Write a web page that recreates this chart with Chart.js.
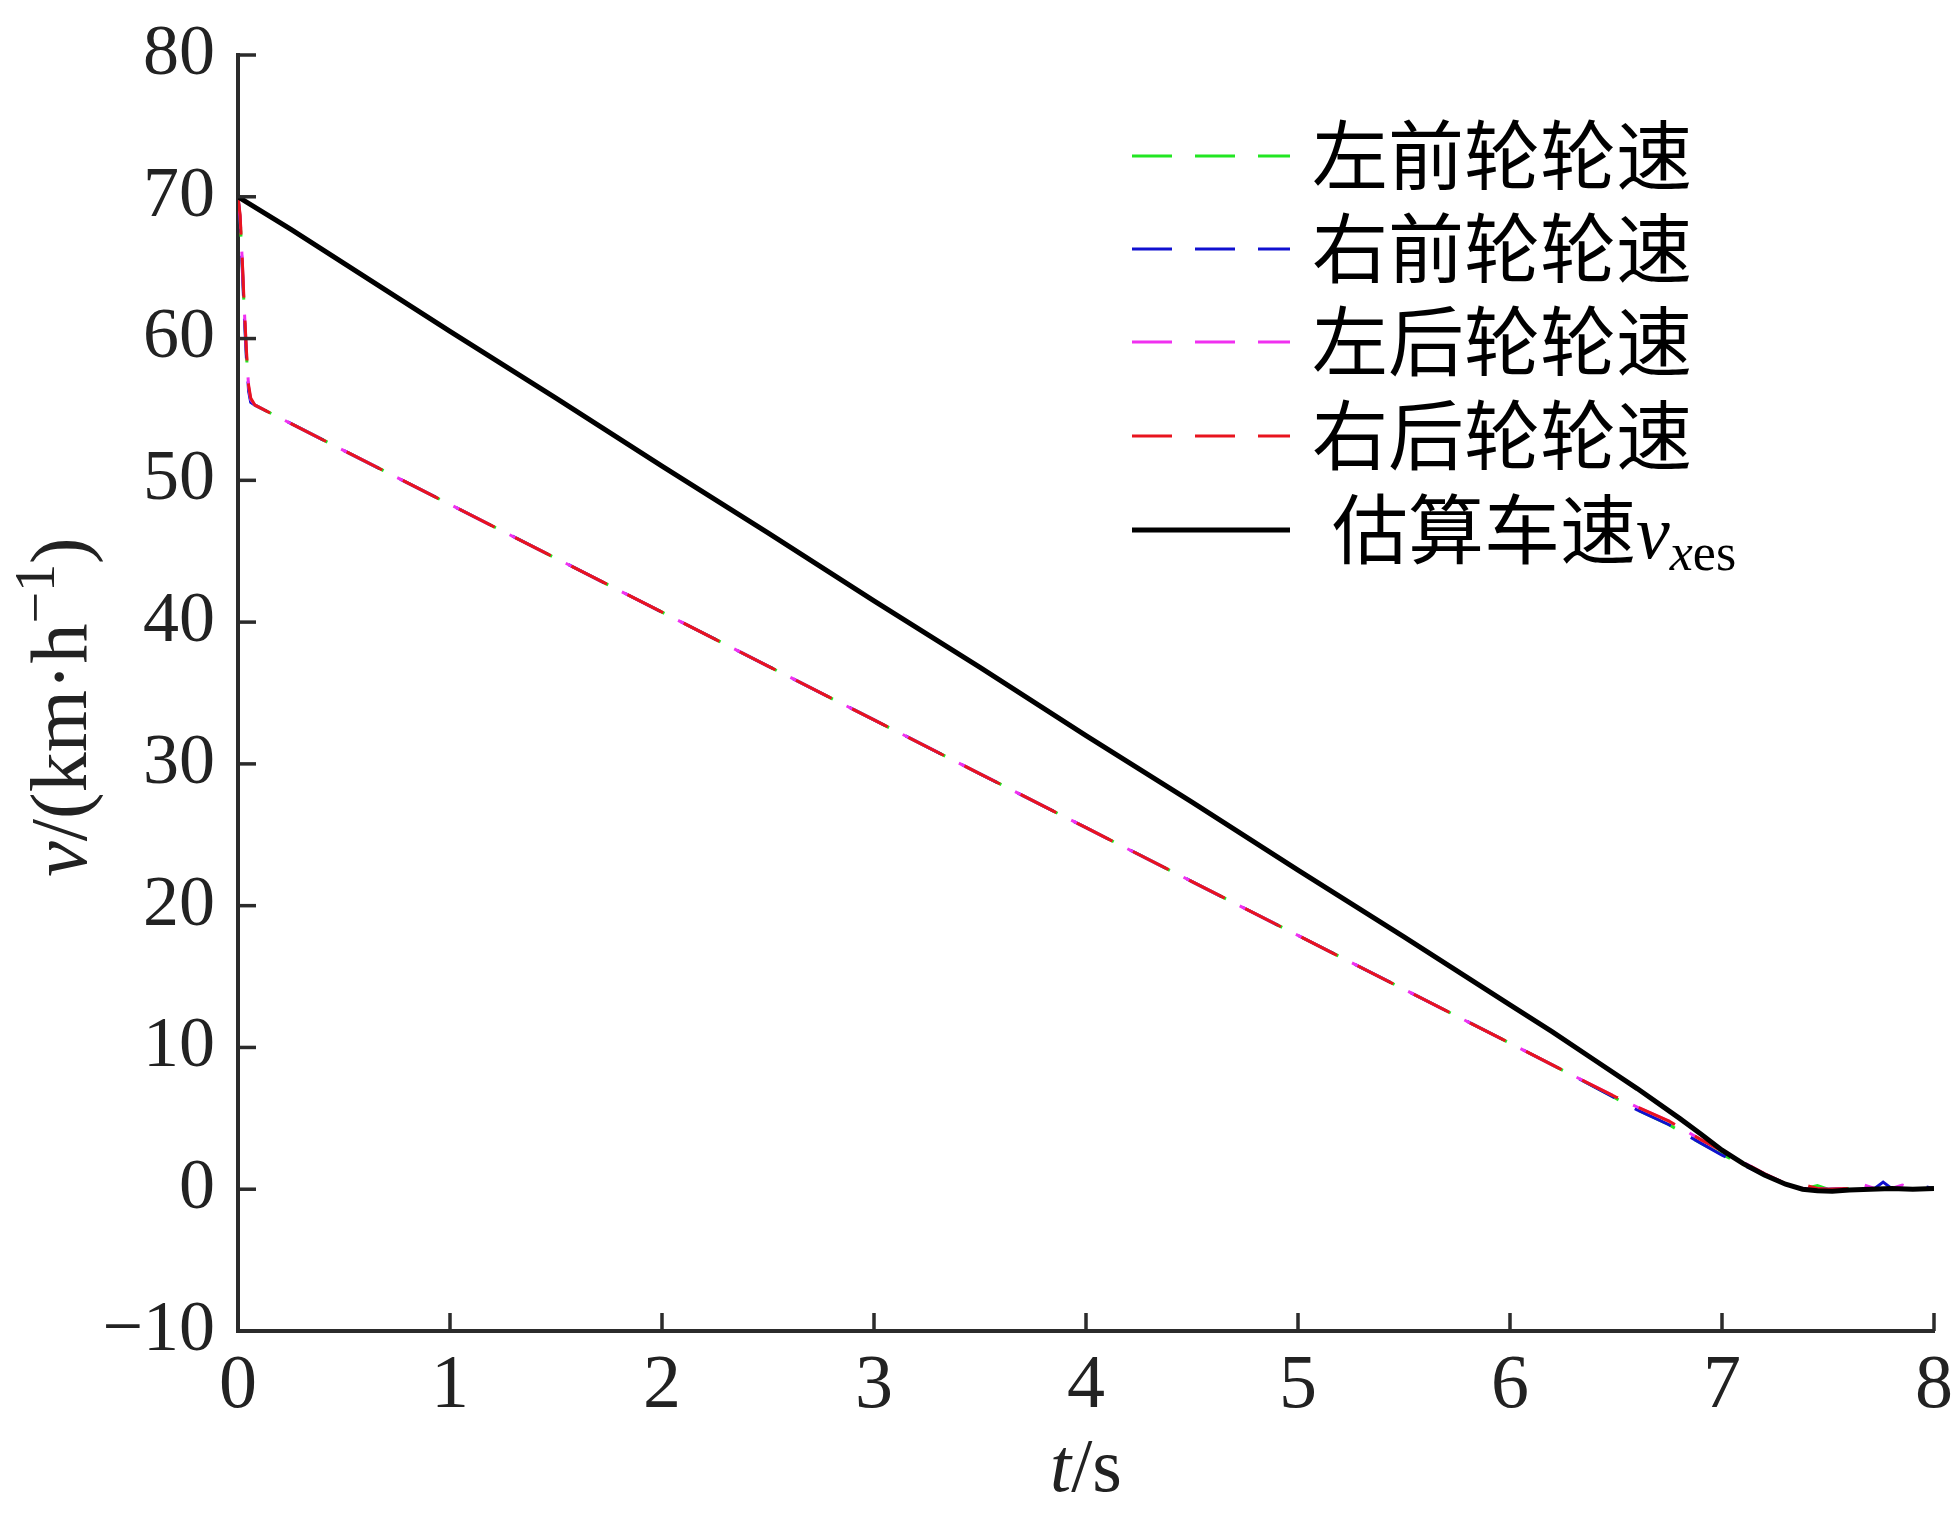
<!DOCTYPE html>
<html><head><meta charset="utf-8">
<script src="https://cdn.jsdelivr.net/npm/chart.js@4.4.1/dist/chart.umd.min.js"></script>
<style>html,body{margin:0;padding:0;background:#fff;}#wrap{width:1955px;height:1515px;}</style>
</head><body><div id="wrap"><canvas id="c" width="1955" height="1515"></canvas></div>
<script>
// ---------------- DATA ----------------
const seriesLabels = ['左前轮轮速', '右前轮轮速', '左后轮轮速', '右后轮轮速', '估算车速'];
const xTickValues = [0, 1, 2, 3, 4, 5, 6, 7, 8];
const yTickValues = [-10, 0, 10, 20, 30, 40, 50, 60, 70, 80];

const wheelTime = [0, 0.01, 0.02, 0.03, 0.04, 0.05, 0.06, 0.08, 0.5, 1, 1.5, 2, 2.5, 3, 3.5, 4, 4.5, 5, 5.5, 6, 6.3, 6.5, 6.6, 6.75, 6.9, 7.0, 7.1, 7.2, 7.3, 7.35, 7.39, 7.45, 7.5, 7.6, 7.67, 7.72, 7.76, 7.8, 7.85, 7.9, 7.95, 8];
const leftFront  = [70, 68.5, 65.3, 61.8, 58.8, 56.5, 55.6, 55.3, 52.1, 48.3, 44.5, 40.7, 36.9, 33.1, 29.3, 25.5, 21.7, 17.9, 14.1, 10.3, 8.0, 6.4, 5.6, 4.55, 3.25, 2.45, 1.75, 1.0, 0.35, 0.1, 0.05, 0.25, 0.0, 0.05, 0.05, 0.05, 0.05, 0.05, 0.05, 0.05, 0.05, 0.05];
const rightFront = [70, 68.3, 65.0, 61.5, 58.5, 56.3, 55.5, 55.3, 52.1, 48.3, 44.5, 40.7, 36.9, 33.1, 29.3, 25.5, 21.7, 17.9, 14.1, 10.3, 8.0, 6.4, 5.6, 4.55, 3.25, 2.4, 1.7, 1.0, 0.35, 0.1, 0.05, 0.05, 0.0, 0.05, 0.05, 0.05, 0.5, 0.05, 0.05, 0.05, 0.2, 0.05];
const leftRear   = [70, 68.6, 65.5, 62.0, 59.0, 56.6, 55.7, 55.3, 52.1, 48.3, 44.5, 40.7, 36.9, 33.1, 29.3, 25.5, 21.7, 17.9, 14.1, 10.3, 8.0, 6.5, 5.8, 4.8, 3.5, 2.7, 1.9, 1.1, 0.4, 0.15, 0.05, 0.05, 0.0, 0.05, 0.3, 0.05, 0.05, 0.05, 0.3, 0.05, 0.05, 0.05];
const rightRear  = [70, 68.7, 65.6, 62.1, 59.1, 56.7, 55.8, 55.3, 52.1, 48.3, 44.5, 40.7, 36.9, 33.1, 29.3, 25.5, 21.7, 17.9, 14.1, 10.3, 8.0, 6.5, 5.8, 4.8, 3.5, 2.7, 1.9, 1.1, 0.4, 0.15, 0.3, 0.05, 0.0, 0.05, 0.05, 0.05, 0.05, 0.05, 0.05, 0.05, 0.05, 0.05];

const estTime  = [0, 0.25, 0.5, 1, 1.5, 2, 2.5, 3, 3.5, 4, 4.5, 5, 5.5, 6, 6.2, 6.4, 6.6, 6.8, 6.9, 7.0, 7.1, 7.2, 7.3, 7.38, 7.45, 7.52, 7.6, 7.7, 7.8, 7.9, 8];
const estSpeed = [70, 67.7, 65.3, 60.5, 55.8, 51.0, 46.3, 41.5, 36.8, 32.0, 27.3, 22.5, 17.8, 13.0, 11.1, 9.1, 7.1, 5.0, 3.9, 2.75, 1.8, 1.0, 0.35, 0.0, -0.1, -0.15, -0.05, 0.0, 0.05, 0.0, 0.05];

// ---------------- STYLE ----------------
const colors = ['#22e622', '#1010d0', '#f030f0', '#e8141e', '#000000'];
const axisColor = '#2b2b2b';
const textColor = '#222222';
const serif = '"Liberation Serif", "Times New Roman", serif';
const cjk = '"Liberation Serif", "Noto Sans CJK SC", serif';
const dashPattern = [40, 23];

function toPoints(xs, ys) { return xs.map((x, i) => ({ x: x, y: ys[i] })); }

const wheelSeries = [leftFront, rightFront, leftRear, rightRear];
const datasets = wheelSeries.map((ys, i) => ({
  label: seriesLabels[i],
  data: toPoints(wheelTime, ys),
  borderColor: colors[i],
  borderWidth: 3,
  borderDash: dashPattern,
  borderDashOffset: [0, 4, 8, 2][i],
  pointRadius: 0,
  tension: 0,
  fill: false,
  order: 4 - i
}));
datasets.push({
  label: seriesLabels[4],
  data: toPoints(estTime, estSpeed),
  borderColor: colors[4],
  borderWidth: 5,
  pointRadius: 0,
  tension: 0,
  fill: false,
  order: 0
});

function drawRich(ctx, parts, x, y, align) {
  let total = 0;
  parts.forEach(p => { ctx.font = p.font; p.w = ctx.measureText(p.text).width; total += p.w + (p.gap || 0); });
  let cx = align === 'center' ? x - total / 2 : x;
  parts.forEach(p => {
    ctx.font = p.font;
    ctx.fillText(p.text, cx, y + (p.dy || 0));
    cx += p.w + (p.gap || 0);
  });
}

const extras = {
  id: 'extras',
  afterDraw(chart) {
    const ctx = chart.ctx;
    const xs = chart.scales.x, ys = chart.scales.y;
    const area = chart.chartArea;
    ctx.save();
    // inward ticks
    ctx.strokeStyle = axisColor;
    ctx.lineWidth = 3.5;
    ctx.setLineDash([]);
    const tl = 18;
    xTickValues.forEach(v => {
      const px = xs.getPixelForValue(v);
      ctx.beginPath(); ctx.moveTo(px, area.bottom); ctx.lineTo(px, area.bottom - tl); ctx.stroke();
    });
    yTickValues.forEach(v => {
      const py = ys.getPixelForValue(v);
      ctx.beginPath(); ctx.moveTo(area.left, py); ctx.lineTo(area.left + tl, py); ctx.stroke();
    });

    // axis titles
    ctx.fillStyle = textColor;
    ctx.textAlign = 'left';
    ctx.textBaseline = 'alphabetic';
    drawRich(ctx, [
      { text: 't', font: 'italic 76px ' + serif },
      { text: '/s', font: '76px ' + serif }
    ], (area.left + area.right) / 2, 1491, 'center');

    ctx.save();
    ctx.translate(86, 707);
    ctx.rotate(-Math.PI / 2);
    drawRich(ctx, [
      { text: 'v', font: 'italic 80px ' + serif },
      { text: '/(km·h', font: '80px ' + serif },
      { text: '−1', font: '56px ' + serif, dy: -32 },
      { text: ')', font: '80px ' + serif }
    ], 0, 0, 'center');
    ctx.restore();

    // legend
    const rowsY = [156, 249, 342, 436, 530];
    const lx0 = 1132, lx1 = 1290;
    chart.data.datasets.forEach((ds, i) => {
      const y = rowsY[i];
      ctx.strokeStyle = ds.borderColor;
      ctx.lineWidth = ds.borderWidth;
      ctx.setLineDash(ds.borderDash || []);
      ctx.lineDashOffset = 0;
      ctx.beginPath(); ctx.moveTo(lx0, y); ctx.lineTo(lx1, y); ctx.stroke();
      ctx.setLineDash([]);
      ctx.fillStyle = '#000';
      if (i < 4) {
        ctx.font = '76px ' + cjk;
        ctx.fillText(ds.label, 1312, y + 28);
      } else {
        drawRich(ctx, [
          { text: ds.label, font: '76px ' + cjk },
          { text: 'v', font: 'italic 76px ' + serif },
          { text: 'x', font: 'italic 52px ' + serif, dy: 12 },
          { text: 'es', font: '52px ' + serif, dy: 12 }
        ], 1332, y + 28, 'left');
      }
    });
    ctx.restore();
  }
};

new Chart(document.getElementById('c'), {
  type: 'line',
  data: { datasets: datasets },
  plugins: [extras],
  options: {
    responsive: false,
    animation: false,
    devicePixelRatio: 1,
    layout: { padding: { top: 55, right: 21, left: 0, bottom: 0 } },
    plugins: { legend: { display: false }, tooltip: { enabled: false } },
    scales: {
      x: {
        type: 'linear', min: 0, max: 8,
        afterFit: s => { s.height = 184; s.paddingLeft = 0; s.paddingRight = 0; s.paddingTop = 0; s.paddingBottom = 0; },
        afterBuildTicks: s => { s.ticks = xTickValues.map(v => ({ value: v })); },
        ticks: { color: textColor, font: { family: serif, size: 76 }, padding: 10, maxRotation: 0, autoSkip: false },
        grid: { display: false, drawTicks: false },
        border: { display: true, color: axisColor, width: 4 }
      },
      y: {
        type: 'linear', min: -10, max: 80,
        afterFit: s => { s.width = 238; s.paddingLeft = 0; s.paddingRight = 0; s.paddingTop = 0; s.paddingBottom = 0; },
        afterBuildTicks: s => { s.ticks = yTickValues.map(v => ({ value: v })); },
        ticks: {
          color: textColor, font: { family: serif, size: 72 }, padding: 23, autoSkip: false,
          callback: v => (v < 0 ? '−' + Math.abs(v) : String(v))
        },
        grid: { display: false, drawTicks: false },
        border: { display: true, color: axisColor, width: 4 }
      }
    }
  }
});
</script>
</body></html>
